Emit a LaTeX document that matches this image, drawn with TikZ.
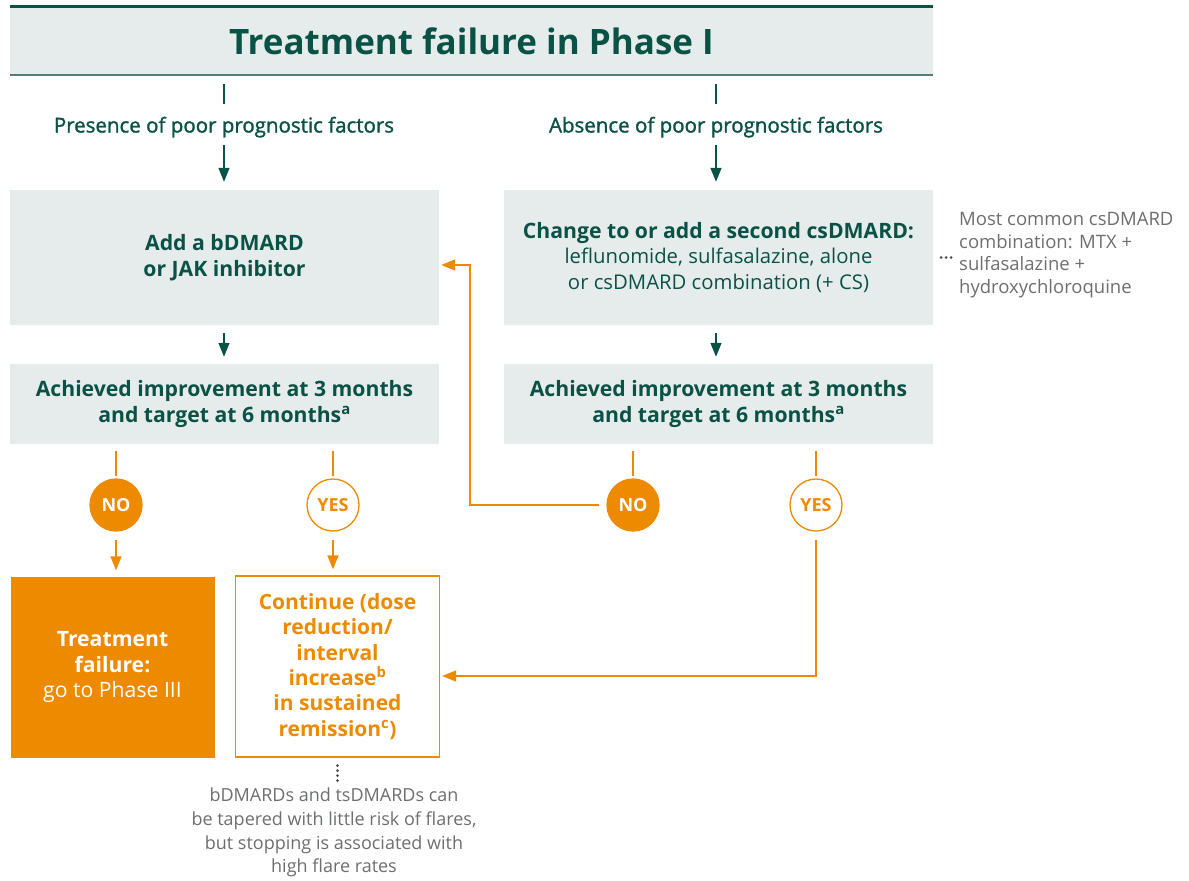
\documentclass[tikz,border=0pt]{standalone}
\usepackage{fontspec}
\setmainfont{Open Sans}
\newfontfamily\semibold[FakeBold=1.4]{Open Sans}
\usetikzlibrary{positioning,arrows.meta}

\definecolor{darkteal}{HTML}{0A5246}
\definecolor{midteal}{HTML}{4F8077}
\definecolor{boxgray}{HTML}{E6ECEB}
\definecolor{brandorange}{HTML}{EE8A00}
\definecolor{txtgray}{HTML}{6D6E70}

\newcommand{\plainline}[1]{{\fontsize{20.3}{26}\selectfont #1}}

\begin{document}
\begin{tikzpicture}[x=1pt, y=-1pt,
  box/.style={fill=boxgray, text=darkteal, align=center, inner sep=0pt, minimum width=429pt, font=\fontsize{21.2}{25.5}\selectfont},
  head/.style={text=darkteal, inner sep=0pt, text height=14pt, text depth=4pt, font=\semibold\fontsize{20.5}{24}\selectfont},
  bubble/.style={circle, draw=brandorange, line width=1.3pt, minimum size=52pt, inner sep=0pt, font=\bfseries\fontsize{18}{18}\selectfont},
  outcome/.style={minimum width=204pt, minimum height=181pt, align=center, inner sep=0pt, font=\fontsize{21.2}{25.4}\selectfont},
  gline/.style={darkteal, line width=1.4pt},
  garrow/.style={gline, -{Triangle[width=11pt,length=14pt]}},
  oline/.style={brandorange, line width=1.4pt},
  oarrow/.style={oline, -{Triangle[width=11pt,length=14pt]}},
  dots/.style={txtgray!70!black, line width=3pt, line cap=round, dash pattern=on 0pt off 5pt},
  note/.style={text=txtgray, inner sep=0pt, font=\fontsize{18.5}{22.5}\selectfont}
]
\useasboundingbox (0,0) rectangle (1189,881);

% title bar
\node[fill=boxgray, text=darkteal, minimum width=923pt, minimum height=68pt, inner sep=0pt, font=\bfseries\fontsize{35}{40}\selectfont] (title) at (471.5,41) {Treatment failure in Phase I};
\draw[darkteal, line width=3pt] (title.north west) -- (title.north east);
\draw[midteal, line width=2pt] (title.south west) -- (title.south east);

% two branches
\node[head] (pres) at (224,127.5) {Presence of poor prognostic factors};
\node[head] (absn) at (716,127.5) {Absence of poor prognostic factors};

\node[box, minimum height=135pt] (addb) at (224.5,257.5) {\textbf{Add a bDMARD}\\\textbf{or JAK inhibitor}};
\node[box, minimum height=135pt] (change) at (718.5,257.5) {\textbf{Change to or add a second csDMARD:}\\\plainline{leflunomide, sulfasalazine, alone}\\\plainline{or csDMARD combination (+ CS)}};
\node[box, minimum height=80pt] (achl) at (224.5,404) {\textbf{Achieved improvement at 3 months}\\\textbf{and target at 6 months\textsuperscript{a}}};
\node[box, minimum height=80pt] (achr) at (718.5,404) {\textbf{Achieved improvement at 3 months}\\\textbf{and target at 6 months\textsuperscript{a}}};

\draw[gline, shorten <=9pt, shorten >=14.5pt] (title.south -| pres) -- (pres);
\draw[gline, shorten <=9pt, shorten >=14.5pt] (title.south -| absn) -- (absn);
\draw[garrow, shorten <=8.5pt, shorten >=8pt] (pres.south) -- (pres |- addb.north);
\draw[garrow, shorten <=8.5pt, shorten >=8pt] (absn.south) -- (absn |- change.north);
\draw[garrow, shorten <=8pt, shorten >=7pt] (pres |- addb.south) -- (pres |- achl.north);
\draw[garrow, shorten <=8pt, shorten >=7pt] (absn |- change.south) -- (absn |- achr.north);

% answers
\node[bubble, fill=brandorange, text=white] (nol) at (116,505) {NO};
\node[bubble, fill=white, text=brandorange] (yesl) at (333,505) {YES};
\node[bubble, fill=brandorange, text=white] (nor) at (633,505) {NO};
\node[bubble, fill=white, text=brandorange] (yesr) at (816,505) {YES};

\node[outcome, fill=brandorange, text=white] (fail) at (112.5,667) {\textbf{Treatment}\\\textbf{failure:}\\go to Phase III};
\node[outcome, draw=brandorange, line width=1.3pt, text=brandorange, font=\bfseries\fontsize{21}{25.4}\selectfont] (cont) at (337.5,666.5) {Continue (dose\\reduction/\\interval\\increase\textsuperscript{b}\\in sustained\\remission\textsuperscript{c})};

\foreach \b/\s in {nol/achl, yesl/achl, nor/achr, yesr/achr}
  \draw[oline, shorten <=7pt, shorten >=2pt] (\b |- \s.south) -- (\b);
\draw[oarrow, shorten <=8pt, shorten >=6pt] (nol) -- (nol |- fail.north);
\draw[oarrow, shorten <=8pt, shorten >=6pt] (yesl) -- (yesl |- cont.north);

\coordinate (bendno) at (470,265);
\coordinate (bendyes) at (816,676);
\draw[oarrow, shorten <=7pt, shorten >=2pt] (nor.west) -| (bendno) -- (bendno -| addb.east);
\draw[oarrow, shorten <=8pt, shorten >=2pt] (yesr.south) -- (bendyes) -- (bendyes -| cont.east);

% side notes
\node[note, anchor=west, align=left] (combo) at (959,255) {Most common csDMARD\\combination: MTX +\\sulfasalazine +\\hydroxychloroquine};
\node[note, anchor=north, align=center, font=\fontsize{18}{23.7}\selectfont] (taper) at (334,788) {bDMARDs and tsDMARDs can\\be tapered with little risk of flares,\\but stopping is associated with\\high flare rates};
\draw[dots, shorten <=8pt, shorten >=7pt] (change.east) -- (change.east -| combo.west);
\draw[dots, shorten <=8pt, shorten >=7pt] (cont.south) -- (cont.south |- taper.north);
\end{tikzpicture}
\end{document}
